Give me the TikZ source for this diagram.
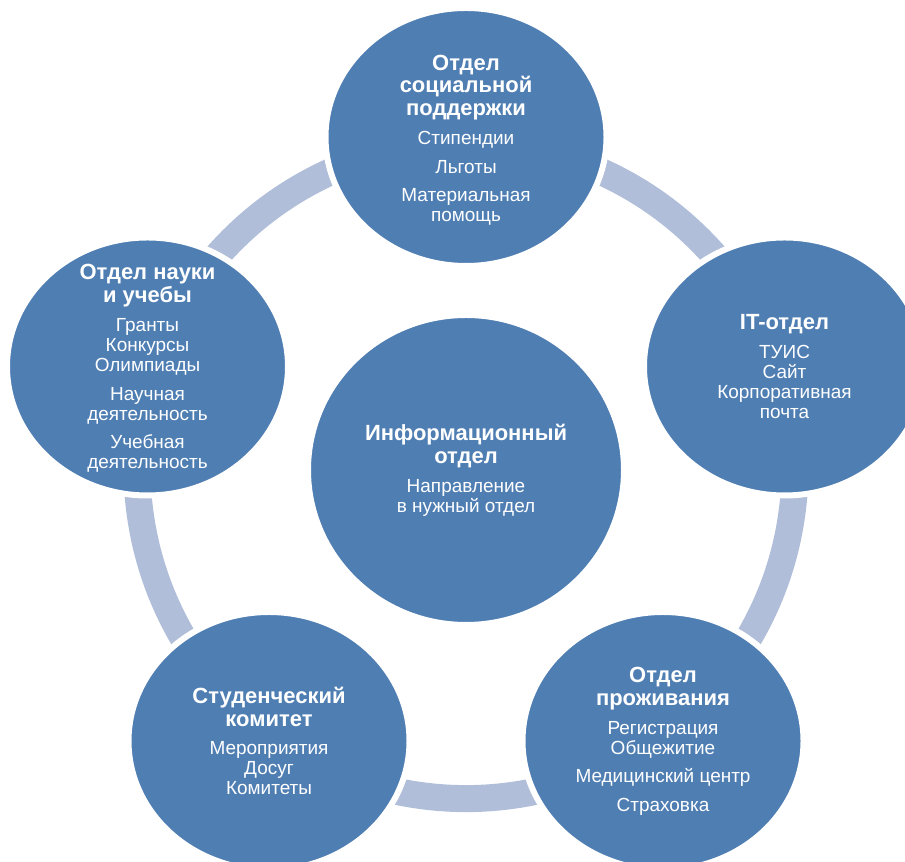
\documentclass[tikz,border=0pt]{standalone}
\usepackage{fontspec}
\setmainfont{Liberation Sans}
\usepackage{xcolor}
\usetikzlibrary{shapes.geometric,backgrounds}
\definecolor{blu}{HTML}{4F7EB3}
\definecolor{azzurro}{HTML}{B0BED9}
\newcommand{\titolo}[1]{{\fontsize{12.5}{13}\selectfont\bfseries #1}}

\begin{document}
\begin{tikzpicture}[
    reparto/.style={ellipse, fill=blu, draw=white, line width=0.12cm, minimum width=5.62cm, minimum height=5.16cm, inner sep=0pt},
    centrale/.style={reparto, minimum width=6.32cm, minimum height=6.2cm},
    testo/.style={align=center, text=white, inner sep=0pt, font={\fontsize{10.8}{11.4}\selectfont\lineskiplimit=-20pt}},
    anello/.style={azzurro, line width=0.54cm}
]
            \useasboundingbox (0,0) rectangle (18.1,17.24);

            % Cerchi
            \node[centrale] (info) at (9.32,7.84) {};
            \node[reparto] (soc) at (9.32,14.5) {};
            \node[reparto] (it) at (15.69,9.91) {};
            \node[reparto] (casa) at (13.26,2.42) {};
            \node[reparto] (stud) at (5.38,2.42) {};
            \node[reparto] (scienza) at (2.95,9.91) {};

            % Anello tra i cerchi
            \begin{scope}[on background layer]
                \draw[anello] (soc.center) to[bend left=30] (it.center);
                \draw[anello] (it.center) to[bend left=30] (casa.center);
                \draw[anello] (casa.center) to[bend left=30] (stud.center);
                \draw[anello] (stud.center) to[bend left=30] (scienza.center);
                \draw[anello] (scienza.center) to[bend left=30] (soc.center);
            \end{scope}

            % Testi
            \node[testo] (info-t) at (info) {\titolo{Информационный}\\[1.6pt]\titolo{отдел}\\[5pt]Направление\\в нужный отдел};
            \node[testo] (soc-t) at ([yshift=-0.06cm]soc) {\titolo{Отдел}\\[1.6pt]\titolo{социальной}\\[1.6pt]\titolo{поддержки}\\[5pt]Стипендии\\[4.8pt]Льготы\\[4.8pt]Материальная\\помощь};
            \node[testo] (it-t) at (it) {\titolo{IT-отдел}\\[5pt]ТУИС\\Сайт\\Корпоративная\\почта};
            \node[testo] (casa-t) at (casa) {\titolo{Отдел}\\[1.6pt]\titolo{проживания}\\[5pt]Регистрация\\Общежитие\\[4.8pt]Медицинский центр\\[4.8pt]Страховка};
            \node[testo] (stud-t) at (stud) {\titolo{Студенческий}\\[1.6pt]\titolo{комитет}\\[5pt]Мероприятия\\Досуг\\Комитеты};
            \node[testo] (scienza-t) at ([yshift=-0.04cm]scienza) {\titolo{Отдел науки}\\[1.6pt]\titolo{и учебы}\\[5pt]Гранты\\Конкурсы\\Олимпиады\\[4.8pt]Научная\\деятельность\\[4.8pt]Учебная\\деятельность};
        \end{tikzpicture}
\end{document}
